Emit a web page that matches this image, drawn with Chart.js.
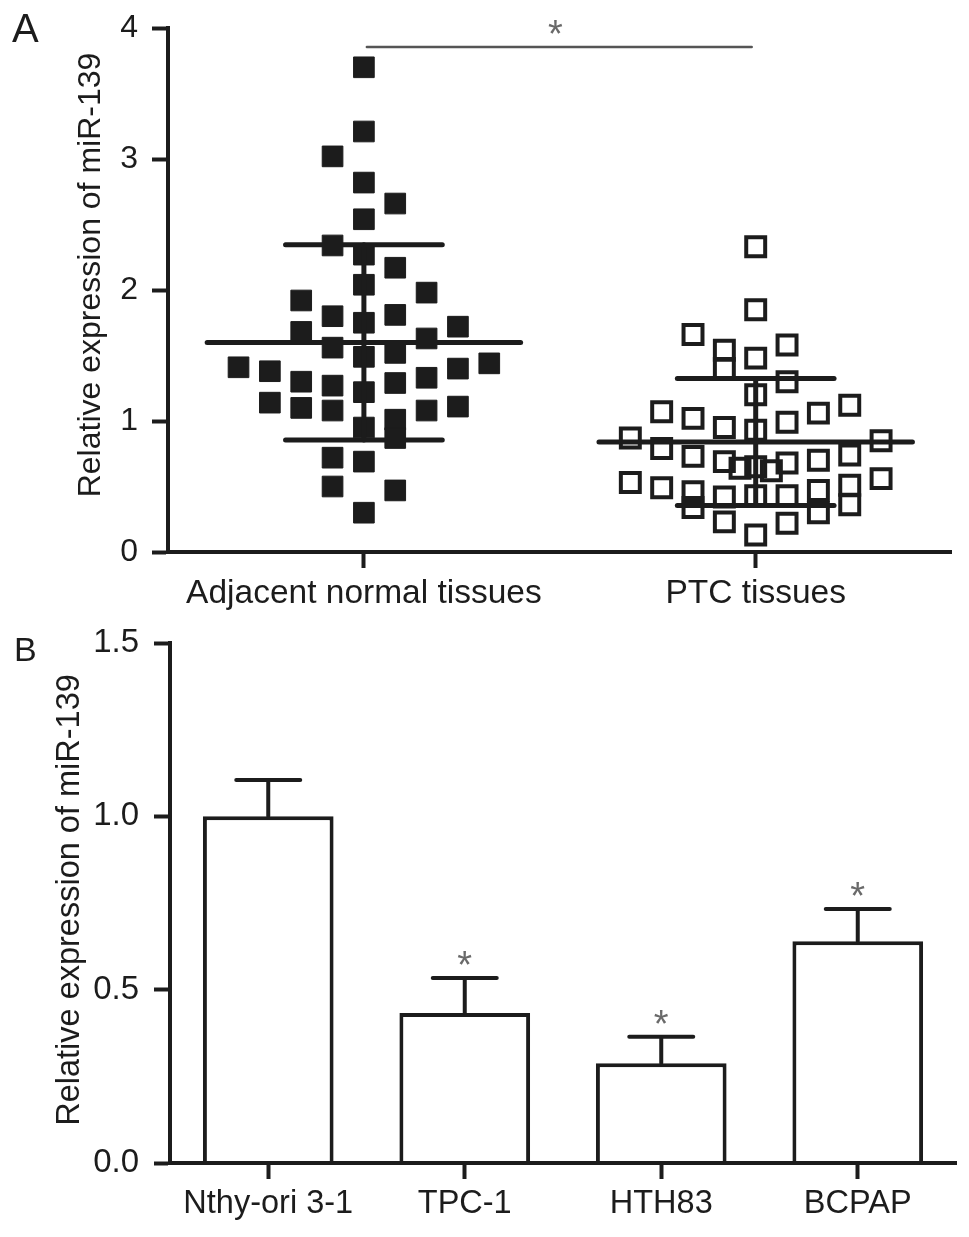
<!DOCTYPE html>
<html>
<head>
<meta charset="utf-8">
<script src="https://cdn.jsdelivr.net/npm/chart.js@4.4.1/dist/chart.umd.min.js"></script>
<style>
html,body{margin:0;padding:0;background:#fff;overflow:hidden}
#wrap{position:relative;width:969px;height:1237px;background:#fff}
canvas{position:absolute;left:0}
#cA{top:0}
#cB{top:620px}
.lab{position:absolute;font-family:'Liberation Sans',Arial,Helvetica,sans-serif;color:#1c1c1c;line-height:1}
</style>
</head>
<body>
<div id="wrap">
<canvas id="cA" width="969" height="620"></canvas>
<canvas id="cB" width="969" height="617"></canvas>
<div class="lab" style="left:12px;top:8px;font-size:40px">A</div>
<div class="lab" style="left:14px;top:632px;font-size:34px">B</div>
</div>
<script>
// ---------- Panel A data ----------
const tissueGroups = ['Adjacent normal tissues', 'PTC tissues'];
const tissueTicks = [0, 1, 2, 3, 4];
const normalValues = [3.70, 3.21, 2.82, 2.54, 2.27, 2.04, 1.75, 1.49, 1.22, 0.95, 0.69, 0.30,
                      3.02, 2.34, 1.80, 1.56, 1.27, 1.08, 0.72, 0.50,
                      2.66, 2.17, 1.81, 1.52, 1.29, 1.01, 0.87, 0.47,
                      1.92, 1.68, 1.30, 1.10,
                      1.98, 1.63, 1.33, 1.08,
                      1.72, 1.40, 1.11,
                      1.38, 1.14,
                      1.41,
                      1.44];
const normalSlots  = [0, 0, 0, 0, 0, 0, 0, 0, 0, 0, 0, 0,
                      -1, -1, -1, -1, -1, -1, -1, -1,
                      1, 1, 1, 1, 1, 1, 1, 1,
                      -2, -2, -2, -2,
                      2, 2, 2, 2,
                      3, 3, 3,
                      -3, -3,
                      -4,
                      4];
const ptcValues = [2.33, 1.85, 1.48, 1.20, 0.93, 0.65, 0.43, 0.13,
                   1.54, 1.40, 0.95, 0.69, 0.42, 0.23,
                   1.66, 1.02, 0.73, 0.46, 0.34,
                   1.07, 0.79, 0.49,
                   0.87, 0.53,
                   1.58, 1.30, 0.99, 0.68, 0.43, 0.22,
                   1.06, 0.70, 0.47, 0.30,
                   1.12, 0.74, 0.51, 0.36,
                   0.85, 0.56,
                   0.64, 0.62];
const ptcSlots  = [0, 0, 0, 0, 0, 0, 0, 0,
                   -1, -1, -1, -1, -1, -1,
                   -2, -2, -2, -2, -2,
                   -3, -3, -3,
                   -4, -4,
                   1, 1, 1, 1, 1, 1,
                   2, 2, 2, 2,
                   3, 3, 3, 3,
                   4, 4,
                   -0.5, 0.5];
const groupMean = [1.60, 0.84];
const groupSD   = [0.745, 0.485];
const tissueSig = { from: 0, to: 1, at: 3.855, mark: '*' };

// ---------- Panel B data ----------
const cellLines  = ['Nthy-ori 3-1', 'TPC-1', 'HTH83', 'BCPAP'];
const cellMeans  = [1.00, 0.433, 0.288, 0.640];
const cellErrors = [0.105, 0.101, 0.076, 0.093];
const cellSig    = ['', '*', '*', '*'];
const cellTicks  = [0, 0.5, 1.0, 1.5];

const yTitle = 'Relative expression of miR-139';

// ---------- styling ----------
const FONT = "'Liberation Sans', Arial, Helvetica, sans-serif";
const INK = '#1c1c1c';
const STAR = '#6a6a6a';
const SLOT = 0.08;
Chart.defaults.font.family = FONT;
Chart.defaults.color = INK;

function jitter(group, values, slots) {
  return values.map((v, i) => ({ x: group + slots[i] * SLOT, y: v }));
}

const summaryLines = [];
groupMean.forEach((m, i) => {
  const sd = groupSD[i];
  const segs = [
    [[i - 0.4, m], [i + 0.4, m]],
    [[i - 0.2, m + sd], [i + 0.2, m + sd]],
    [[i - 0.2, m - sd], [i + 0.2, m - sd]],
    [[i, m - sd], [i, m + sd]]
  ];
  segs.forEach(s => summaryLines.push({
    type: 'line',
    data: s.map(p => ({ x: p[0], y: p[1] })),
    borderColor: INK, borderWidth: 5, borderCapStyle: 'round',
    pointRadius: 0, pointHoverRadius: 0, fill: false, tension: 0, order: 0
  }));
});

const axisGrid = { drawOnChartArea: false, drawTicks: true, tickLength: 16, tickWidth: 4, tickColor: INK };
const axisBorder = { display: true, color: INK, width: 4, z: 1 };

function drawStar(ctx, text, cx, cy) {
  ctx.fillStyle = STAR; ctx.font = '38px ' + FONT;
  ctx.textAlign = 'center'; ctx.textBaseline = 'alphabetic';
  ctx.fillText(text, cx, cy + 15);
}

const overlayA = {
  id: 'overlayA',
  afterDraw(chart) {
    const { ctx, scales: { x, y } } = chart;
    ctx.save();
    const yy = y.getPixelForValue(tissueSig.at);
    const x1 = x.getPixelForValue(tissueSig.from) + 3;
    const x2 = x.getPixelForValue(tissueSig.to) - 4;
    ctx.strokeStyle = '#555'; ctx.lineWidth = 2.5; ctx.lineCap = 'round';
    ctx.beginPath(); ctx.moveTo(x1, yy); ctx.lineTo(x2, yy); ctx.stroke();
    drawStar(ctx, tissueSig.mark, (x1 + x2) / 2 - 4, yy - 15);
    ctx.fillStyle = INK; ctx.font = '32px ' + FONT;
    ctx.textAlign = 'center'; ctx.textBaseline = 'alphabetic';
    ctx.translate(100, 275); ctx.rotate(-Math.PI / 2);
    ctx.fillText(yTitle, 0, 0);
    ctx.restore();
  }
};

new Chart(document.getElementById('cA'), {
  type: 'scatter',
  data: {
    datasets: [
      ...summaryLines,
      { type: 'scatter', data: jitter(0, normalValues, normalSlots), pointStyle: 'rect',
        pointRadius: 14.6, pointHoverRadius: 14.6, backgroundColor: INK, borderColor: INK, borderWidth: 1, order: 1 },
      { type: 'scatter', data: jitter(1, ptcValues, ptcSlots), pointStyle: 'rect',
        pointRadius: 13.4, pointHoverRadius: 13.4, backgroundColor: 'rgba(0,0,0,0)', borderColor: INK, borderWidth: 4, order: 1 }
    ]
  },
  options: {
    responsive: false, animation: false, events: [],
    layout: { padding: { top: 28, right: 16, bottom: 0, left: 0 } },
    plugins: { legend: { display: false }, tooltip: { enabled: false } },
    scales: {
      x: {
        type: 'linear', min: -0.5, max: 1.5,
        afterBuildTicks: s => { s.ticks = tissueGroups.map((_, i) => ({ value: i })); },
        afterFit: s => { s.height = 68; s.paddingLeft = 0; s.paddingRight = 0; },
        ticks: { callback: v => tissueGroups[v] ?? '', font: { size: 33.5 }, color: INK, padding: 6, maxRotation: 0, autoSkip: false },
        grid: axisGrid, border: axisBorder
      },
      y: {
        min: 0, max: 4,
        afterBuildTicks: s => { s.ticks = tissueTicks.map(v => ({ value: v })); },
        afterFit: s => { s.width = 168; s.paddingTop = 0; s.paddingBottom = 0; },
        ticks: { callback: v => String(v), font: { size: 32 }, color: INK, padding: 14 },
        grid: axisGrid, border: axisBorder
      }
    }
  },
  plugins: [overlayA]
});

const overlayB = {
  id: 'overlayB',
  afterDatasetsDraw(chart) {
    const { ctx, scales: { y } } = chart;
    const meta = chart.getDatasetMeta(0);
    ctx.save();
    cellMeans.forEach((m, i) => {
      const cx = meta.data[i].x;
      const yb = y.getPixelForValue(m);
      const yt = y.getPixelForValue(m + cellErrors[i]);
      ctx.strokeStyle = INK; ctx.lineWidth = 4; ctx.lineCap = 'round';
      ctx.beginPath();
      ctx.moveTo(cx, yb); ctx.lineTo(cx, yt);
      ctx.moveTo(cx - 32, yt); ctx.lineTo(cx + 32, yt);
      ctx.stroke();
      if (cellSig[i]) drawStar(ctx, cellSig[i], cx, yt - 15);
    });
    ctx.fillStyle = INK; ctx.font = '32.5px ' + FONT; ctx.textAlign = 'center'; ctx.textBaseline = 'alphabetic';
    ctx.translate(79, 280); ctx.rotate(-Math.PI / 2);
    ctx.fillText(yTitle, 0, 0);
    ctx.restore();
  }
};

new Chart(document.getElementById('cB'), {
  type: 'bar',
  data: {
    labels: cellLines,
    datasets: [{
      data: cellMeans, backgroundColor: '#ffffff', borderColor: INK, borderWidth: 4,
      borderSkipped: 'start', barPercentage: 0.665, categoryPercentage: 1
    }]
  },
  options: {
    responsive: false, animation: false, events: [],
    layout: { padding: { top: 23, right: 13, bottom: 0, left: 0 } },
    plugins: { legend: { display: false }, tooltip: { enabled: false } },
    scales: {
      x: {
        afterFit: s => { s.height = 74; s.paddingLeft = 0; s.paddingRight = 0; },
        ticks: { font: { size: 32.5 }, color: INK, padding: 6, maxRotation: 0, autoSkip: false },
        grid: Object.assign({ offset: false }, axisGrid), border: axisBorder
      },
      y: {
        min: 0, max: 1.5,
        afterBuildTicks: s => { s.ticks = cellTicks.map(v => ({ value: v })); },
        afterFit: s => { s.width = 170; s.paddingTop = 0; s.paddingBottom = 0; },
        ticks: { callback: v => Number(v).toFixed(1), font: { size: 33 }, color: INK, padding: 15 },
        grid: axisGrid, border: axisBorder
      }
    }
  },
  plugins: [overlayB]
});
</script>
</body>
</html>
